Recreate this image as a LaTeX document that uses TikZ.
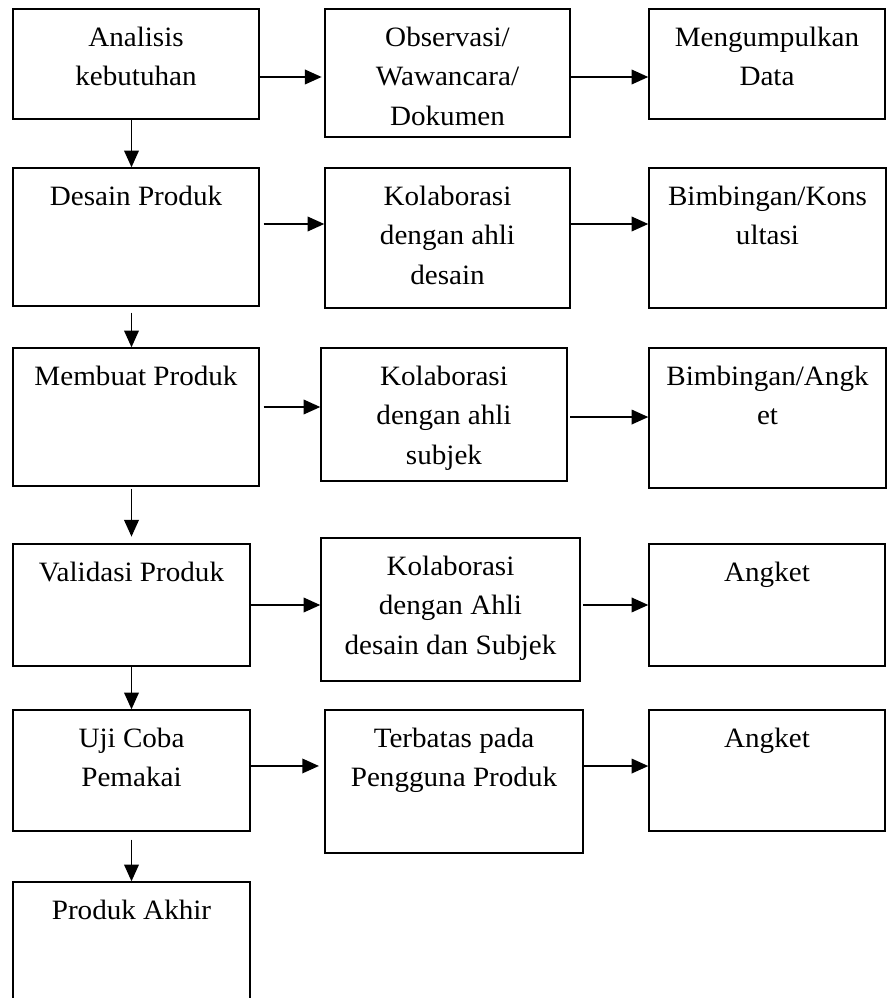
\documentclass[tikz,border=0pt]{standalone}
\usepackage{fontspec}
\setmainfont{Liberation Serif}[FakeStretch=1.04]
\usetikzlibrary{arrows.meta}
\tikzset{
  every picture/.style={line width=1.1pt},
  box/.style 2 args={draw, fill=white, rectangle, inner sep=0pt, minimum width=#1*0.75pt, minimum height=#2*0.75pt},
  txt/.style={anchor=north, yshift=-13.5pt, inner sep=0pt, align=center, font=\fontsize{21}{29.5}\selectfont},
  arrow/.style={-{Triangle[length=12.5pt, width=11pt]}, line width=1.1pt},
}

\begin{document}
\begin{tikzpicture}[x=0.75pt, y=-0.75pt]
  \useasboundingbox (0,0) rectangle (886,998);

  % main steps
  \node[box={246}{110}, label={[txt]north:{Analisis\\kebutuhan}}] (ana) at (136,64) {};
  \node[box={246}{138}, label={[txt]north:{Desain Produk}}] (des) at (136,237) {};
  \node[box={246}{138}, label={[txt]north:{Membuat Produk}}] (mem) at (136,417) {};
  \node[box={237}{122}, label={[txt]north:{Validasi Produk}}] (val) at (131.5,605) {};
  \node[box={237}{121}, label={[txt]north:{Uji Coba\\Pemakai}}] (uji) at (131.5,770.5) {};
  \node[box={237}{140}, label={[txt]north:{Produk Akhir}}] (akh) at (131.5,952) {};

  % how
  \node[box={245}{128}, label={[txt]north:{Observasi/\\Wawancara/\\Dokumen}}] (obs) at (447.5,73) {};
  \node[box={245}{140}, label={[txt]north:{Kolaborasi\\dengan ahli\\desain}}] (kds) at (447.5,238) {};
  \node[box={246}{133}, label={[txt]north:{Kolaborasi\\dengan ahli\\subjek}}] (ksb) at (444,414.5) {};
  \node[box={259}{143}, label={[txt]north:{Kolaborasi\\dengan Ahli\\desain dan Subjek}}] (kdsb) at (450.5,609.5) {};
  \node[box={258}{143}, label={[txt]north:{Terbatas pada\\Pengguna Produk}}] (ter) at (454,781.5) {};

  % result
  \node[box={236}{110}, label={[txt]north:{Mengumpulkan\\Data}}] (dat) at (767,64) {};
  \node[box={237}{140}, label={[txt]north:{Bimbingan/Kons\\ultasi}}] (bkon) at (767.5,238) {};
  \node[box={237}{140}, label={[txt]north:{Bimbingan/Angk\\et}}] (bang) at (767.5,418) {};
  \node[box={236}{122}, label={[txt]north:{Angket}}] (ang1) at (767,605) {};
  \node[box={236}{121}, label={[txt]north:{Angket}}] (ang2) at (767,770.5) {};

  % down the steps
  \draw[arrow] (ana.south -| val) -- (des.north -| val);
  \draw[arrow, shorten <=4.5pt] (des.south -| val) -- (mem.north -| val);
  \draw[arrow, shorten <=1.5pt, shorten >=5pt] (mem.south -| val) -- (val.north);
  \draw[arrow] (val.south) -- (uji.north);
  \draw[arrow, shorten <=6pt] (uji.south) -- (akh.north);

  % across
  \draw[arrow, shorten >=2pt] ([yshift=-9.75pt]ana.east) -- ([yshift=-9.75pt]ana.east -| obs.west);
  \draw[arrow] ([yshift=-3pt]obs.east) -- ([yshift=-3pt]obs.east -| dat.west);
  \draw[arrow, shorten <=3pt] ([yshift=9.75pt]des.east) -- ([yshift=9.75pt]des.east -| kds.west);
  \draw[arrow] ([yshift=10.5pt]kds.east) -- ([yshift=10.5pt]kds.east -| bkon.west);
  \draw[arrow, shorten <=3pt] ([yshift=7.5pt]mem.east) -- ([yshift=7.5pt]mem.east -| ksb.west);
  \draw[arrow, shorten <=2pt] ([yshift=-1.9pt]ksb.east) -- ([yshift=-1.9pt]ksb.east -| bang.west);
  \draw[arrow] (val.east) -- (val.east -| kdsb.west);
  \draw[arrow, shorten <=2pt] ([yshift=3.4pt]kdsb.east) -- ([yshift=3.4pt]kdsb.east -| ang1.west);
  \draw[arrow, shorten >=4pt] ([yshift=3.4pt]uji.east) -- ([yshift=3.4pt]uji.east -| ter.west);
  \draw[arrow] ([yshift=11.6pt]ter.east) -- ([yshift=11.6pt]ter.east -| ang2.west);
\end{tikzpicture}
\end{document}
